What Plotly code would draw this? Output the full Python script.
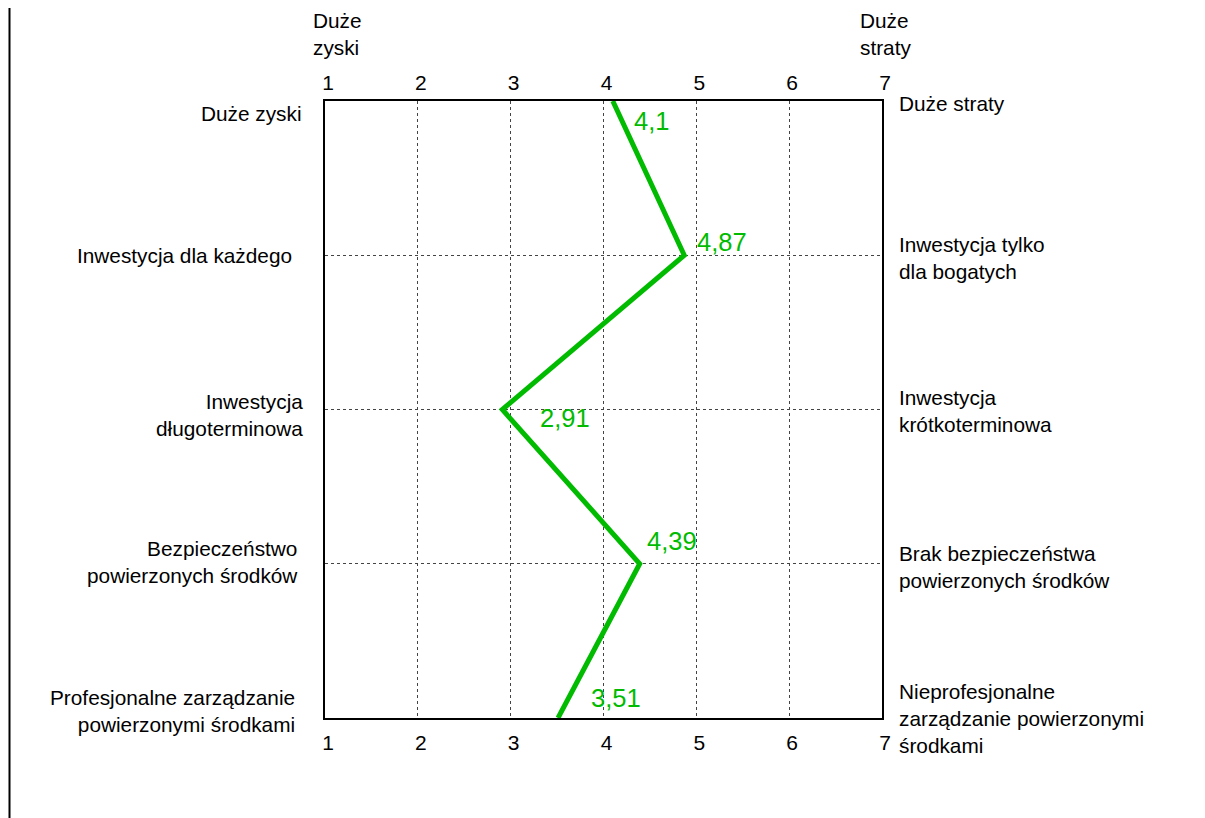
import plotly.graph_objects as go

# ---- data ----
left_labels = [
    "Duże zyski",
    "Inwestycja dla każdego",
    "Inwestycja<br>długoterminowa",
    "Bezpieczeństwo<br>powierzonych środków",
    "Profesjonalne zarządzanie<br>powierzonymi środkami",
]
right_labels = [
    "Duże straty",
    "Inwestycja tylko<br>dla bogatych",
    "Inwestycja<br>krótkoterminowa",
    "Brak bezpieczeństwa<br>powierzonych środków",
    "Nieprofesjonalne<br>zarządzanie powierzonymi<br>środkami",
]
values = [4.1, 4.87, 2.91, 4.39, 3.51]
value_labels = ["4,1", "4,87", "2,91", "4,39", "3,51"]
scale_ticks = [1, 2, 3, 4, 5, 6, 7]
scale_tick_labels = ["1", "2", "3", "4", "5", "6", "7"]
top_left_title = "Duże<br>zyski"
top_right_title = "Duże<br>straty"

# ---- layout / style parameters (pixel offsets) ----
W, H = 1205, 818
PAGE_OFF = 8  # page body offset in the browser
ML, MT = 325 - PAGE_OFF, 101 - PAGE_OFF
MR = W - (882 - PAGE_OFF)
MB = H - (718 - PAGE_OFF)
left_label_shift = [(-21, -12), (-31, 0), (-20, -5), (-25, 2), (-28, 7)]
right_label_shift = [(15, -2), (15, -3), (15, -1), (15, -3), (15, 0)]
value_label_shift = [(39, -20), (38, 13), (63, -8), (32, 23), (58, 20)]
GREEN = "#00BB00"
FONT = "Liberation Sans, Arial, sans-serif"
LABEL_SIZE = 20.8
TICK_SIZE = 21
VALUE_SIZE = 25.5

ypos = list(range(len(values)))

fig = go.Figure()
fig.add_trace(go.Scatter(
    x=values, y=ypos, mode="lines",
    line=dict(color=GREEN, width=5),
    hoverinfo="skip", showlegend=False,
))
# invisible trace to activate top axis
fig.add_trace(go.Scatter(
    x=values, y=ypos, xaxis="x2", mode="lines",
    line=dict(width=0), hoverinfo="skip", showlegend=False,
))

annotations = []
for i, (txt, (dx, dy)) in enumerate(zip(left_labels, left_label_shift)):
    annotations.append(dict(
        x=scale_ticks[0], y=ypos[i], xref="x", yref="y", text=txt,
        showarrow=False, xanchor="right", yanchor="middle", align="right",
        xshift=dx, yshift=dy, font=dict(family=FONT, size=LABEL_SIZE, color="#000"),
    ))
for i, (txt, (dx, dy)) in enumerate(zip(right_labels, right_label_shift)):
    annotations.append(dict(
        x=scale_ticks[-1], y=ypos[i], xref="x", yref="y", text=txt,
        showarrow=False, xanchor="left", yanchor="middle", align="left",
        xshift=dx, yshift=dy, font=dict(family=FONT, size=LABEL_SIZE, color="#000"),
    ))
for i, (txt, (dx, dy)) in enumerate(zip(value_labels, value_label_shift)):
    annotations.append(dict(
        x=values[i], y=ypos[i], xref="x", yref="y", text=txt,
        showarrow=False, xanchor="center", yanchor="middle",
        xshift=dx, yshift=dy, font=dict(family=FONT, size=VALUE_SIZE, color=GREEN),
    ))
annotations.append(dict(
    x=scale_ticks[0], y=1, xref="x", yref="paper", text=top_left_title,
    showarrow=False, xanchor="left", yanchor="bottom", align="left",
    xshift=-14, yshift=40, font=dict(family=FONT, size=LABEL_SIZE, color="#000"),
))
annotations.append(dict(
    x=scale_ticks[-1], y=1, xref="x", yref="paper", text=top_right_title,
    showarrow=False, xanchor="left", yanchor="bottom", align="left",
    xshift=-24, yshift=40, font=dict(family=FONT, size=LABEL_SIZE, color="#000"),
))

plot_w = W - ML - MR
plot_h = H - MT - MB
border_x = (9.5 - PAGE_OFF - ML) / plot_w
fig.add_shape(type="line", xref="paper", yref="paper",
              x0=border_x, x1=border_x,
              y0=-MB / plot_h, y1=1 + MT / plot_h,
              line=dict(color="#000", width=2))

axis_common = dict(
    range=[scale_ticks[0], scale_ticks[-1]],
    tickvals=scale_ticks, ticktext=scale_tick_labels,
    showgrid=True, gridcolor="#444", griddash="3px,3px", gridwidth=1,
    zeroline=False, ticks="", tickfont=dict(family=FONT, size=TICK_SIZE, color="#000"),
    ticklabelshift=3,
)

fig.update_layout(
    width=W, height=H,
    margin=dict(l=ML, r=MR, t=MT, b=MB),
    paper_bgcolor="white", plot_bgcolor="white",
    font=dict(family=FONT, size=TICK_SIZE, color="#000"),
    xaxis=dict(**axis_common, side="bottom", showline=True, linecolor="#000",
               linewidth=2, mirror=True, ticklabelstandoff=5),
    xaxis2=dict(**axis_common, side="top", overlaying="x", showline=False,
                ticklabelstandoff=6),
    yaxis=dict(range=[len(values) - 1, 0], tickvals=ypos, showticklabels=False,
               showgrid=True, gridcolor="#444", griddash="3px,3px", gridwidth=1,
               zeroline=False, showline=True, linecolor="#000", linewidth=2,
               mirror=True, ticks=""),
    annotations=annotations,
    showlegend=False,
)

fig.write_html("out.html")
